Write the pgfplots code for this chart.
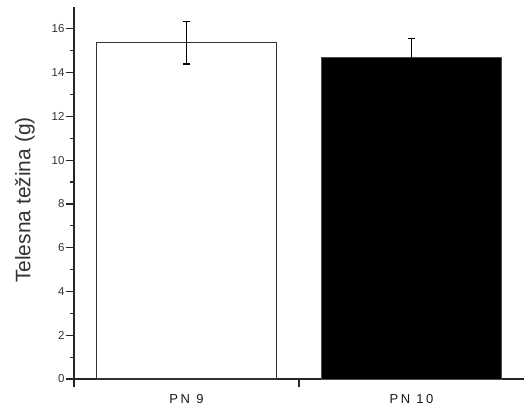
\documentclass[border=0pt]{standalone}
\usepackage{fontspec}
\setmainfont{Liberation Sans}
\newfontfamily\spaced[LetterSpace=20]{Liberation Sans}
\usepackage{pgfplots}
\pgfplotsset{compat=1.18}
\begin{document}
\begin{tikzpicture}[x=1bp,y=1bp]
\begin{axis}[
  scale only axis,
  width=450bp, height=372bp,
  xmin=-0.5, xmax=1.5,
  ymin=0, ymax=17,
  axis lines*=left,
  axis line style={line width=1.6bp, black!85},
  ytick={0,2,...,16},
  minor y tick num=1,
  xtick={-0.5,0.5},
  xticklabels={},
  extra x ticks={0,1},
  extra x tick labels={PN 9, PN 10},
  extra x tick style={major tick length=0pt},
  tick align=outside,
  major tick length=8bp,
  minor tick length=4bp,
  tick style={line width=1.2bp, black!85},
  /pgf/number format/assume math mode=true,
  tick label style={font=\fontsize{11.5bp}{13bp}\selectfont},
  yticklabel style={font=\fontsize{11.5bp}{13bp}\selectfont, text=black!80, xshift=2bp},
  xticklabel style={font=\spaced\fontsize{13bp}{15bp}\selectfont, text=black!90, yshift=-12bp},
  ylabel={Telesna težina (g)},
  ylabel style={font=\fontsize{21bp}{24bp}\selectfont, text=black!80, yshift=10bp, xshift=-7bp},
  clip=false,
]
\addplot[ybar, bar width=0.8, fill=white, draw=black!80, line width=1.2bp,
  error bars/.cd, y dir=both, y explicit, error bar style={line width=1.3bp, black}, error mark options={rotate=90, mark size=3.5bp, line width=1.3bp}]
  coordinates {(0,15.37) +- (0,0.98)};
\addplot[ybar, bar width=0.8, fill=black, draw=black!70, line width=1bp,
  error bars/.cd, y dir=both, y explicit, error bar style={line width=1.3bp, black}, error mark options={rotate=90, mark size=3.5bp, line width=1.3bp}]
  coordinates {(1,14.70) +- (0,0.87)};
\end{axis}
\pgfresetboundingbox
\path (current axis.south west) ++(-74bp,-35bp) coordinate (bl);
\path (current axis.north east) ++(5bp,7bp) coordinate (tr);
\path[use as bounding box] (bl) rectangle (tr);
\end{tikzpicture}
\end{document}
